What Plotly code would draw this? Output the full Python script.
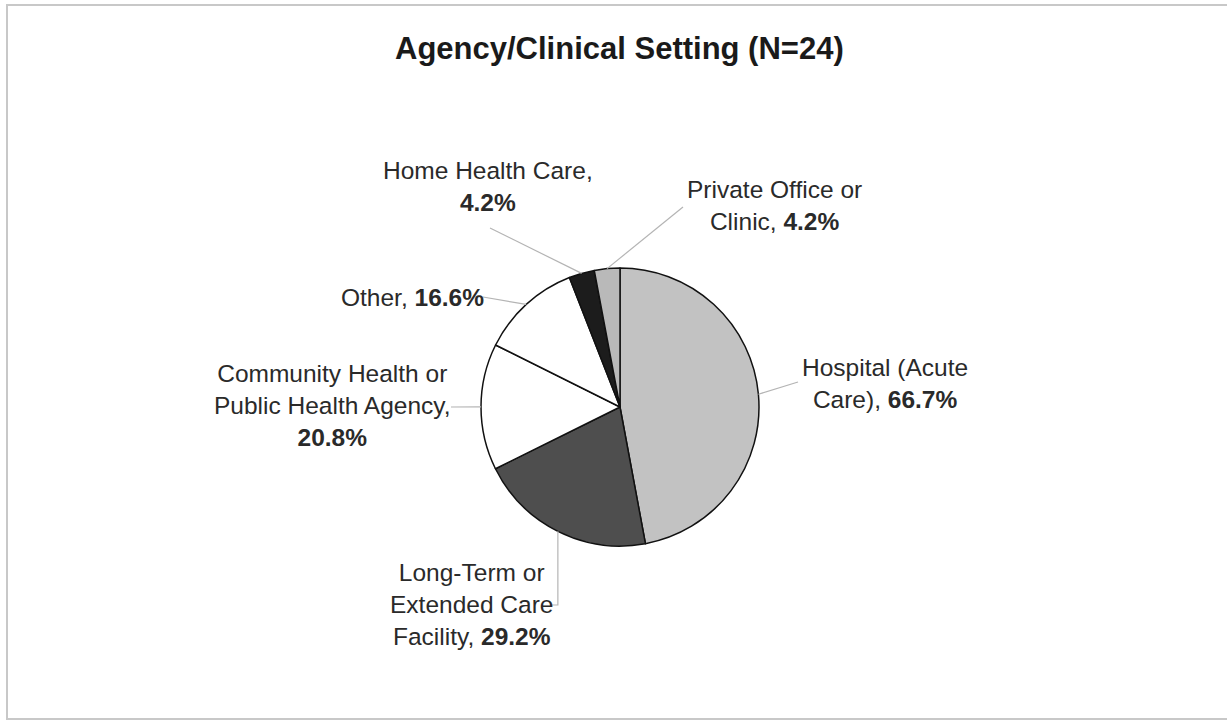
import math
import plotly.graph_objects as go

W, H = 1227, 725

# data
categories = [
    "Hospital (Acute Care)",
    "Long-Term or Extended Care Facility",
    "Community Health or Public Health Agency",
    "Other",
    "Home Health Care",
    "Private Office or Clinic",
]
percent = [66.7, 29.2, 20.8, 16.6, 4.2, 4.2]
label_text = [
    "Hospital (Acute<br>Care), <b>{}%</b>",
    "Long-Term or<br>Extended Care<br>Facility, <b>{}%</b>",
    "Community Health or<br>Public Health Agency,<br><b>{}%</b>",
    "Other, <b>{}%</b>",
    "Home Health Care,<br><b>{}%</b>",
    "Private Office or<br>Clinic, <b>{}%</b>",
]
slice_colors = ["#c2c2c2", "#4e4e4e", "#ffffff", "#ffffff", "#1c1c1c", "#b9b9b9"]

# layout (pixels)
cx, cy, r = 620, 407, 139
label_pos = [(885, 383), (471, 604), (332, 405), (412, 297), (488, 187), (774, 205)]
leader_end = [(798, 382), (552, 605), (451, 407), (483, 297), (490, 228), (683, 207)]
elbow = [False, True, False, False, False, False]


def px(x):
    return x / W


def py(y):
    return 1 - y / H


fig = go.Figure(go.Pie(
    labels=categories,
    values=percent,
    sort=False,
    direction="clockwise",
    rotation=0,
    textinfo="none",
    hoverinfo="label+value",
    marker=dict(colors=slice_colors, line=dict(color="#111111", width=1.5)),
    domain=dict(x=[px(cx - r), px(cx + r)], y=[py(cy + r), py(cy - r)]),
    showlegend=False,
))

# leader lines from mid-angle of each slice to its label
total = sum(percent)
shapes = []
annotations = []
cum = 0
for i, v in enumerate(percent):
    mid = (cum + v / 2) / total * 2 * math.pi
    cum += v
    ex = cx + r * math.sin(mid)
    ey = cy - r * math.cos(mid)
    lx, ly = leader_end[i]
    if elbow[i]:
        path = f"M {px(ex)},{py(ey)} L {px(ex)},{py(ly)} L {px(lx)},{py(ly)}"
    else:
        path = f"M {px(ex)},{py(ey)} L {px(lx)},{py(ly)}"
    shapes.append(dict(type="path", xref="paper", yref="paper", path=path,
                       line=dict(color="#b4b4b4", width=1.2)))
    tx, ty = label_pos[i]
    annotations.append(dict(
        x=px(tx), y=py(ty), xref="paper", yref="paper",
        text=label_text[i].format(v), showarrow=False,
        xanchor="center", yanchor="middle", align="center",
        font=dict(family="Liberation Sans, Arial", size=24.5, color="#2a2a2a"),
    ))

annotations.append(dict(
    x=px(619), y=py(49), xref="paper", yref="paper",
    text="<b>Agency/Clinical Setting (N=24)</b>", showarrow=False,
    xanchor="center", yanchor="middle",
    font=dict(family="Liberation Sans, Arial", size=31, color="#1a1a1a"),
))

# outer frame (right edge runs off the picture)
shapes.append(dict(type="rect", xref="paper", yref="paper",
                   x0=px(7), x1=px(1232), y0=py(719), y1=py(5),
                   line=dict(color="#c8c8c8", width=2), layer="below"))

fig.update_layout(
    width=W, height=H,
    margin=dict(l=0, r=0, t=0, b=0),
    paper_bgcolor="white",
    plot_bgcolor="white",
    shapes=shapes,
    annotations=annotations,
)

fig.write_html("out.html", config={"displayModeBar": False},
               post_script="document.body.style.margin='0';")
